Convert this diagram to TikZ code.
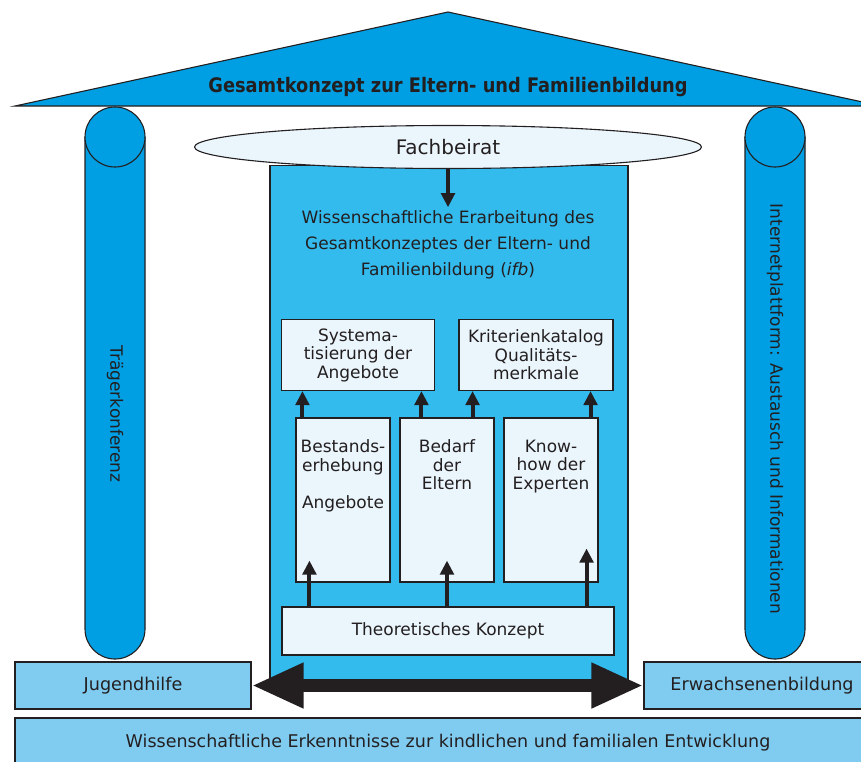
\documentclass[tikz,border=0pt]{standalone}
\usepackage{fontspec}
\setmainfont{DejaVu Sans}
\newfontfamily\titlefont[FakeStretch=0.89]{DejaVu Sans}
\usetikzlibrary{arrows.meta,shapes.geometric}
\definecolor{roofblue}{HTML}{009FE3}
\definecolor{midblue}{HTML}{33BBEE}
\definecolor{paleblue}{HTML}{EAF5FC}
\definecolor{baseblue}{HTML}{80CCF1}
\definecolor{ink}{HTML}{231F20}

\begin{document}
\begin{tikzpicture}[x=1pt,y=-1pt,text=ink,
  font=\fontsize{17}{18.5}\selectfont,
  outl/.style={draw=ink,line width=1.1pt},
  box/.style={outl,fill=paleblue,align=center,inner sep=0pt},
  tall/.style={box,minimum width=94,minimum height=164},
  base/.style={outl,fill=baseblue,inner sep=0pt,font=\fontsize{17.6}{20}\selectfont},
  arr/.style={-{Triangle[width=13.5pt,length=14pt]},draw=ink,line width=4pt},
  big/.style={{Triangle[width=42pt,length=52pt]}-{Triangle[width=42pt,length=52pt]},draw=ink,line width=13pt}]
  \useasboundingbox (0,0) rectangle (861,761);
  \clip (0,0) rectangle (861,761);

  % columns
  \foreach \cx in {115,775} {
    \draw[outl,fill=roofblue] (\cx-30,137) -- (\cx-30,629)
      arc[start angle=180,end angle=360,radius=30pt] -- (\cx+30,137);
    \draw[outl,fill=roofblue] (\cx,137) circle[radius=30pt];
  }
  \node[rotate=-90] (traeger) at (115,414) {Trägerkonferenz};
  \node[rotate=-90] (portal) at (775,409) {Internetplattform: Austausch und Informationen};

  % roof
  \draw[outl,fill=roofblue] (15,106) -- (448,12) -- (881,106) -- cycle;
  \node[font=\titlefont\fontsize{20}{24}\selectfont\bfseries] (title) at (448,87)
    {Gesamtkonzept zur Eltern- und Familienbildung};

  % middle part
  \node[outl,fill=midblue,minimum width=358,minimum height=515,inner sep=0pt] (ifb) at (449,423) {};
  \node[outl,fill=paleblue,ellipse,minimum width=507,minimum height=43,inner sep=0pt,
    font=\fontsize{20}{24}\selectfont] (fach) at (448,147) {Fachbeirat};
  \node[align=center,font=\fontsize{17}{26}\selectfont] (ifbtxt) at (448,245)
    {Wissenschaftliche Erarbeitung des\\Gesamtkonzeptes der Eltern- und\\Familienbildung (\textit{ifb})};
  \path (fach) edge[arr] (ifbtxt);

  \node[box,minimum width=153,minimum height=71] (syst) at (358,355) {Systema-\\tisierung der\\Angebote};
  \node[box,minimum width=154,minimum height=71] (krit) at (536,355) {Kriterienkatalog\\Qualitäts-\\merkmale};
  \node[tall] (bestand) at (343,500)
    {\parbox[c][164pt][t]{94pt}{\centering\vspace*{22pt}Bestands-\\erhebung\\[18.5pt]Angebote}};
  \node[tall] (bedarf) at (447,500)
    {\parbox[c][164pt][t]{94pt}{\centering\vspace*{22pt}Bedarf\\der\\Eltern}};
  \node[tall] (know) at (551,500)
    {\parbox[c][164pt][t]{94pt}{\centering\vspace*{22pt}Know-\\how der\\Experten}};
  \node[box,minimum width=332,minimum height=48] (theor) at (448,631) {Theoretisches Konzept};

  \draw[arr] ([xshift=7]bestand.north west) -- ([xshift=7]bestand.north west |- syst.south);
  \draw[arr] ([xshift=22]bedarf.north west) -- ([xshift=22]bedarf.north west |- syst.south);
  \draw[arr] ([xshift=-22]bedarf.north east) -- ([xshift=-22]bedarf.north east |- krit.south);
  \draw[arr] ([xshift=-8]know.north east) -- ([xshift=-8]know.north east |- krit.south);
  \draw[arr] ([xshift=14]bestand.south west |- theor.north) -- ([xshift=14,yshift=22]bestand.south west);
  \draw[arr] (bedarf.south |- theor.north) -- ([yshift=22]bedarf.south);
  \draw[arr] ([xshift=-12]know.south east |- theor.north) -- ([xshift=-12,yshift=34]know.south east);

  % base
  \node[base,minimum width=236,minimum height=47] (jugend) at (133,685.5) {Jugendhilfe};
  \node[base,minimum width=236,minimum height=47] (erw) at (762,685.5) {Erwachsenenbildung};
  \node[base,minimum width=866,minimum height=50,font=\fontsize{17.5}{20}\selectfont] (wiss) at (448,743)
    {Wissenschaftliche Erkenntnisse zur kindlichen und familialen Entwicklung};
  \path (jugend) edge[big] (erw);
\end{tikzpicture}
\end{document}
